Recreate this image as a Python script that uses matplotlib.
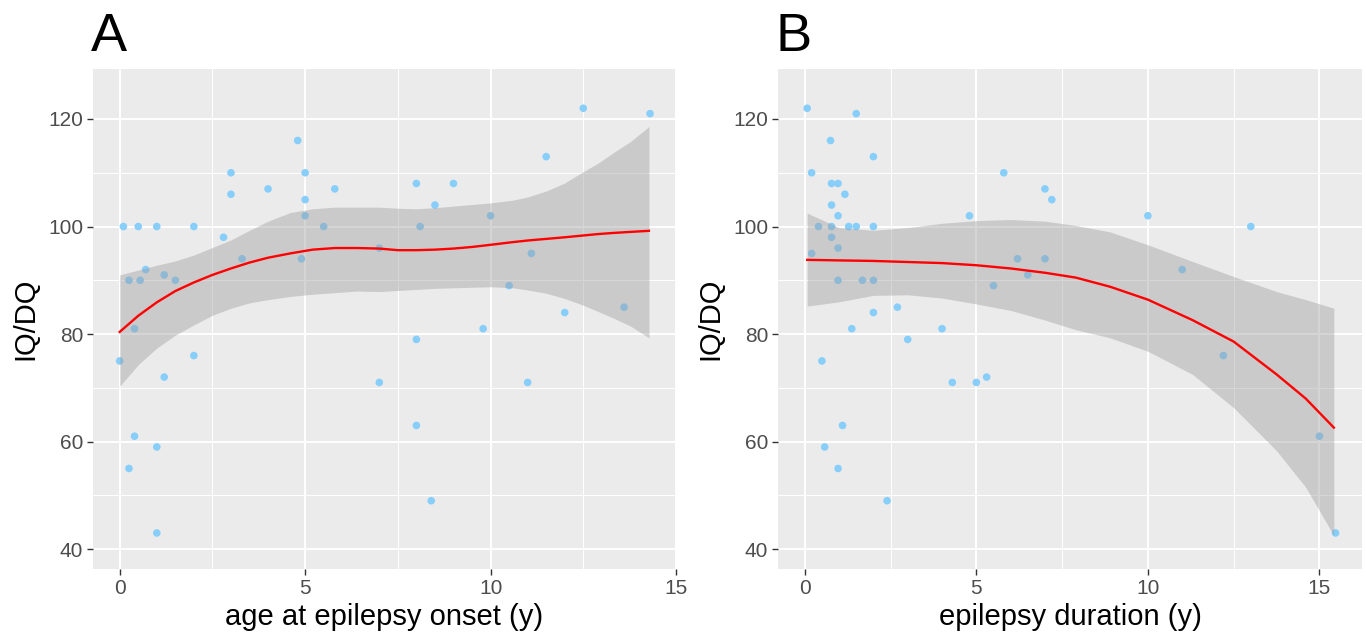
import matplotlib
matplotlib.use("Agg")
import matplotlib.pyplot as plt
import numpy as np

plt.rcParams['font.family'] = ['Liberation Sans', 'DejaVu Sans']

# ---- panel A : age at epilepsy onset vs IQ/DQ ----
onset_x = [0.1, 0.5, 1.0, 2.0, 0.25, 0.55, 0.7, 1.2, 1.5, 2.8, 3.0, 3.0, 3.3, 4.0, 4.8, 5.0,
           5.0, 5.0, 4.9, 5.5, 5.8, 7.0, 0.4, 0.0, 2.0, 1.2, 7.0, 0.4, 1.0, 0.25, 1.0, 8.0,
           9.0, 8.5, 8.1, 10.0, 11.5, 12.5, 14.3, 11.1, 10.5, 12.0, 13.6, 9.8, 8.0, 11.0, 8.0, 8.4]
onset_iq = [100, 100, 100, 100, 90, 90, 92, 91, 90, 98, 110, 106, 94, 107, 116, 110,
            105, 102, 94, 100, 107, 96, 81, 75, 76, 72, 71, 61, 59, 55, 43, 108,
            108, 104, 100, 102, 113, 122, 121, 95, 89, 84, 85, 81, 79, 71, 63, 49]

# loess fit
fitA_x = [0.0, 0.5, 1.0, 1.5, 2.0, 2.5, 3.0, 3.5, 4.0, 4.6, 5.2, 5.8, 6.4, 7.0, 7.5, 8.0,
          8.5, 9.0, 9.5, 10.0, 10.6, 11.0, 11.5, 12.0, 12.45, 12.9, 13.3, 13.77, 14.27]
fitA_y = [80.4, 83.4, 85.9, 88.0, 89.6, 91.0, 92.2, 93.3, 94.2, 95.0, 95.7, 96.0, 96.0, 95.9, 95.6, 95.6,
          95.7, 95.9, 96.2, 96.6, 97.1, 97.4, 97.7, 98.0, 98.3, 98.6, 98.8, 99.0, 99.2]
fitA_lo = [70.3, 74.3, 77.4, 79.8, 81.7, 83.5, 84.8, 85.8, 86.4, 87.0, 87.4, 87.7, 88.0, 87.9, 88.1, 88.3,
           88.5, 88.6, 88.7, 88.8, 88.6, 88.2, 87.6, 86.6, 85.5, 84.2, 83.0, 81.5, 79.3]
fitA_hi = [91.0, 91.9, 92.8, 93.6, 94.7, 96.1, 97.5, 99.3, 101.0, 102.6, 103.3, 103.6, 103.6, 103.6, 103.4, 103.3,
           103.5, 103.8, 104.1, 104.4, 104.9, 105.5, 106.6, 108.1, 110.0, 111.8, 113.7, 115.8, 118.6]

# ---- panel B : epilepsy duration vs IQ/DQ ----
dur_x = [0.07, 1.5, 0.75, 2.0, 0.2, 0.78, 0.97, 1.17, 0.78, 0.97, 0.4, 0.78, 1.28, 1.5, 2.0, 0.78,
         0.97, 0.2, 0.97, 1.68, 2.0, 2.0, 2.7, 4.8, 5.8, 7.0, 7.2, 6.2, 7.0, 6.5, 5.5, 1.37,
         3.0, 4.0, 0.5, 4.3, 5.0, 5.3, 1.1, 0.58, 0.97, 2.4, 10.0, 13.0, 11.0, 12.2, 15.0, 15.47]
dur_iq = [122, 121, 116, 113, 110, 108, 108, 106, 104, 102, 100, 100, 100, 100, 100, 98,
          96, 95, 90, 90, 90, 84, 85, 102, 110, 107, 105, 94, 94, 91, 89, 81,
          79, 81, 75, 71, 71, 72, 63, 59, 55, 49, 102, 100, 92, 76, 61, 43]

fitB_x = [0.07, 1.0, 2.0, 3.0, 4.0, 5.0, 6.0, 7.0, 7.9, 8.9, 10.0, 11.3, 12.5, 13.75, 14.6, 15.42]
fitB_y = [93.8, 93.7, 93.6, 93.4, 93.2, 92.8, 92.2, 91.4, 90.5, 88.8, 86.4, 82.6, 78.6, 72.5, 68.0, 62.6]
fitB_lo = [85.2, 86.0, 87.2, 87.3, 86.7, 85.6, 84.4, 82.6, 80.8, 79.3, 76.8, 72.5, 66.3, 58.3, 51.5, 42.5]
fitB_hi = [102.5, 99.8, 99.3, 99.8, 100.6, 101.1, 101.3, 101.0, 100.2, 99.0, 96.6, 93.5, 90.7, 87.9, 86.4, 84.8]

panels = [
    ("A", onset_x, onset_iq, fitA_x, fitA_y, fitA_lo, fitA_hi, "age at epilepsy onset (y)", (-0.72, 15.0)),
    ("B", dur_x, dur_iq, fitB_x, fitB_y, fitB_lo, fitB_hi, "epilepsy duration (y)", (-0.78, 16.24)),
]
boxes = [[93 / 1366, 71 / 640, 583 / 1366, 500 / 640],
         [778 / 1366, 71 / 640, 584 / 1366, 500 / 640]]

fig = plt.figure(figsize=(13.66, 6.4), dpi=100)

for box, (tag, px, py, fx, fy, flo, fhi, xlab, xl) in zip(boxes, panels):
    ax = fig.add_axes(box)
    ax.set_facecolor('#EBEBEB')
    for s in ax.spines.values():
        s.set_visible(False)
    ax.scatter(px, py, s=30, color='#87CEFA', edgecolors='none', zorder=3)
    ax.fill_between(fx, flo, fhi, color='#999999', alpha=0.4, linewidth=0, zorder=4)
    ax.plot(fx, fy, color='red', lw=1.7, zorder=5)

    ax.set_xlim(*xl)
    ax.set_ylim(36.3, 129.3)
    ax.set_xticks([0, 5, 10, 15])
    ax.set_xticks([2.5, 7.5, 12.5], minor=True)
    ax.set_yticks([40, 60, 80, 100, 120])
    ax.set_yticks([50, 70, 90, 110], minor=True)
    ax.grid(True, which='major', color='white', lw=1.4, zorder=0)
    ax.grid(True, which='minor', color='white', lw=0.7, zorder=0)
    ax.set_axisbelow(True)
    ax.tick_params(which='major', length=4, width=1, color='#333333',
                   labelcolor='#4D4D4D', labelsize=15, pad=3)
    ax.tick_params(which='minor', length=0)
    ax.set_xlabel(xlab, fontsize=21, labelpad=4)
    ax.set_ylabel("IQ/DQ", fontsize=21, labelpad=6)
    fig.text(box[0] - 2 / 1366, 1 - 51 / 640, tag, fontsize=39, va='baseline', ha='left')

fig.savefig("out.png", dpi=100)
